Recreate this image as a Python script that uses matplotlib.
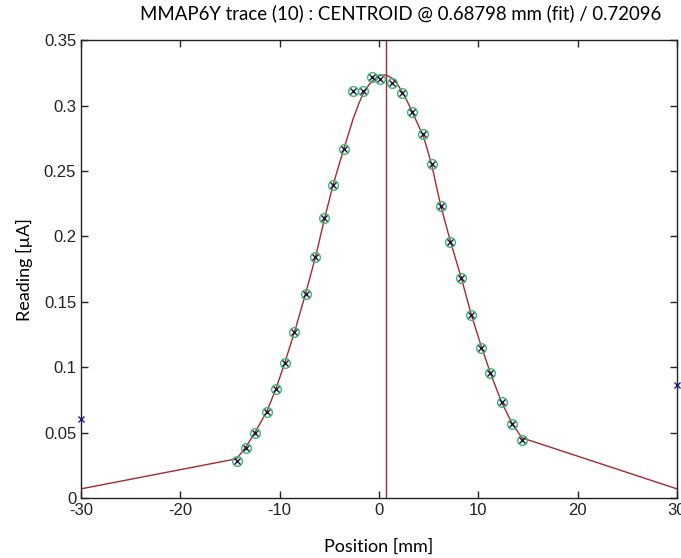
import matplotlib
matplotlib.use("Agg")
import matplotlib.pyplot as plt

plt.rcParams["axes.unicode_minus"] = False

# scan points (green circles with x)
pos_mm = [-14.33, -13.39, -12.48, -11.3, -10.37, -9.46, -8.53, -7.38, -6.44, -5.54,
          -4.6, -3.52, -2.59, -1.58, -0.73, 0.1, 1.27, 2.28, 3.29, 4.46,
          5.31, 6.24, 7.18, 8.26, 9.26, 10.27, 11.18, 12.35, 13.42, 14.37]
reading = [0.028, 0.038, 0.0494, 0.0655, 0.083, 0.103, 0.127, 0.1556, 0.1843, 0.2137,
           0.239, 0.2665, 0.311, 0.311, 0.322, 0.320, 0.317, 0.310, 0.295, 0.278,
           0.255, 0.223, 0.196, 0.168, 0.140, 0.115, 0.0953, 0.0736, 0.0565, 0.0447]

# out-of-range edge readings (blue x)
edge_pos = [-30, 30]
edge_reading = [0.0605, 0.0865]

# fitted trace (red line)
fit_x = [-30, -14.33, -13.4, -12.5, -11.3, -10.4, -9.5, -8.5, -7.4, -6.4, -5.5, -4.6,
         -3.5, -3.0, -2.6, -2.0, -1.6, -1.0, -0.5, 0.1, 0.7, 1.3, 1.8, 2.3, 2.8, 3.3,
         4.5, 5.3, 6.2, 7.2, 8.3, 9.3, 10.3, 11.2, 12.3, 13.4, 14.4, 30]
fit_y = [0.007, 0.030, 0.039, 0.050, 0.066, 0.083, 0.103, 0.127, 0.156, 0.184, 0.213, 0.240,
         0.268, 0.280, 0.290, 0.302, 0.309, 0.316, 0.320, 0.323, 0.3235, 0.321, 0.317, 0.311,
         0.304, 0.296, 0.276, 0.255, 0.224, 0.196, 0.168, 0.140, 0.116, 0.096, 0.074, 0.057,
         0.046, 0.007]

centroid = 0.68798

fig = plt.figure(figsize=(6.81, 5.58), dpi=100)
ax = fig.add_axes([0.119, 0.1075, 0.875, 0.8205])

ax.plot(fit_x, fit_y, color="#a8282e", lw=1.0, zorder=2)
ax.axvline(centroid, color="#a8282e", lw=1.0, zorder=2)
ax.plot(pos_mm, reading, "o", ms=7, mfc="none", mec="#3cb878", mew=1.0, zorder=3)
ax.plot(pos_mm, reading, "x", ms=5, color="#1a1a3a", mew=1.0, zorder=4)
ax.plot(edge_pos, edge_reading, "x", ms=5, color="#1c1c8c", mew=1.0, clip_on=False, zorder=4)

ax.set_xlim(-30, 30)
ax.set_ylim(0, 0.35)
ax.set_xticks([-30, -20, -10, 0, 10, 20, 30])
ax.set_xticklabels(["-30", "-20", "-10", "0", "10", "20", "30"])
ax.set_yticks([0, 0.05, 0.1, 0.15, 0.2, 0.25, 0.3, 0.35])
ax.set_yticklabels(["0", "0.05", "0.1", "0.15", "0.2", "0.25", "0.3", "0.35"])
ax.tick_params(direction="in", length=5, top=True, right=True, labelsize=12,
               colors="#222222", width=1.0)
for lab in ax.get_xticklabels() + ax.get_yticklabels():
    lab.set_family("Liberation Sans")
for sp in ax.spines.values():
    sp.set_linewidth(1.0)
    sp.set_color("#222222")

ax.set_xlabel("Position [mm]", fontsize=13, family="Lato", labelpad=15)
ax.set_ylabel("Reading [µA]", fontsize=13, family="Lato", labelpad=8)
fig.text(0.589, 0.976, "MMAP6Y trace (10) : CENTROID @ 0.68798 mm (fit) / 0.72096",
         fontsize=13.4, family="Lato", ha="center", va="center")

fig.savefig("out.png", dpi=100)
